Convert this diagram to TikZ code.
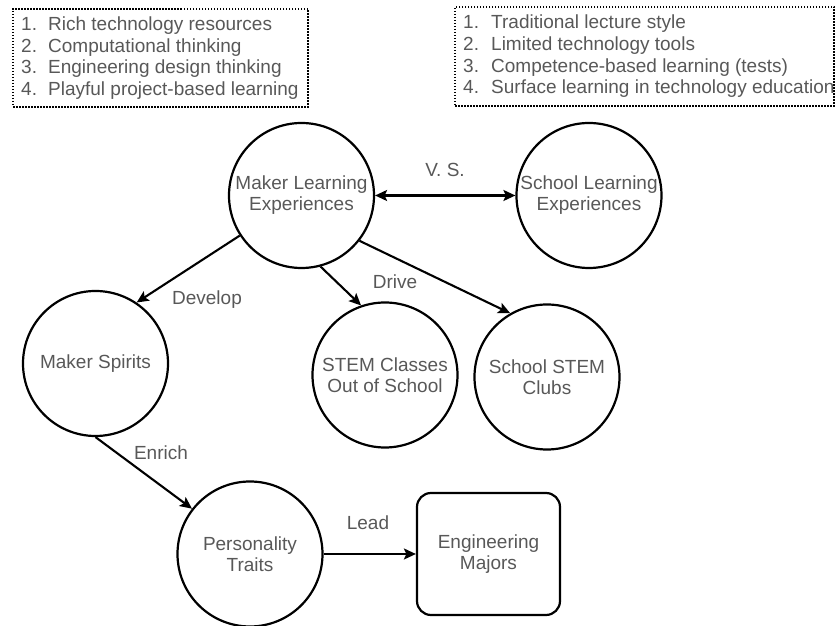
\documentclass[tikz,border=0pt]{standalone}
\usepackage{fontspec}
\setmainfont{Liberation Sans}
\usetikzlibrary{arrows.meta}
\definecolor{txt}{RGB}{88,88,88}
\begin{document}
\begin{tikzpicture}[x=1pt,y=1pt,
  every node/.style={font=\fontsize{19}{21}\selectfont, text=txt},
  circ/.style={circle, draw=black, line width=2.2pt, minimum size=145pt, inner sep=0pt, align=center},
  rbox/.style={rectangle, rounded corners=14pt, draw=black, line width=2.2pt, minimum width=143pt, minimum height=122pt, align=center},
  listbox/.style={rectangle, draw=black, line width=1.8pt, dash pattern=on 1.5pt off 1.5pt, inner sep=0pt},
  listtext/.style={inner sep=0pt, anchor=west, align=left, font=\fontsize{19}{21.7}\selectfont},
  conn/.style={draw=black, line width=2.1pt, -{Stealth[length=12pt,width=11pt,inset=2.5pt]}},
  biconn/.style={draw=black, line width=2.1pt, {Stealth[length=12pt,width=11pt,inset=2.5pt]}-{Stealth[length=12pt,width=11pt,inset=2.5pt]}},
  lbl/.style={inner sep=0pt}
]
\useasboundingbox (0,0) rectangle (836,626);

% list boxes
\node[listbox, minimum width=295pt, minimum height=98pt] (lbox) at (160.5,568) {};
\node[listtext] (ltext) at (21,568) {\makebox[27pt][l]{1.}Rich technology resources\\
\makebox[27pt][l]{2.}Computational thinking\\
\makebox[27pt][l]{3.}Engineering design thinking\\
\makebox[27pt][l]{4.}Playful project-based learning};

\node[listbox, minimum width=379pt, minimum height=99pt] (rbox) at (644.5,569.5) {};
\node[listtext] (rtext) at (463,569.5) {\makebox[28pt][l]{1.}Traditional lecture style\\
\makebox[28pt][l]{2.}Limited technology tools\\
\makebox[28pt][l]{3.}Competence-based learning (tests)\\
\makebox[28pt][l]{4.}Surface learning in technology education};

% circles
\node[circ] (ml) at (301.5,430.5) {Maker Learning\\Experiences};
\node[circ] (sl) at (589,430.5) {School Learning\\Experiences};
\node[circ] (ms) at (95.5,262.5) {Maker Spirits};
\node[circ] (sc) at (385,251) {STEM Classes\\Out of School};
\node[circ] (cl) at (547,249) {School STEM\\Clubs};
\node[circ] (pt) at (250,72) {Personality\\Traits};
\node[rbox] (em) at (488.5,72) {Engineering\\Majors};

% connectors
\draw[biconn] (ml.east) -- (sl.west);
\draw[conn] (ml.213.8) -- (ms.56.6);
\draw[conn] (ml.285.8) -- (sc.109.4);
\draw[conn] (ml.322.5) -- (cl.120.8);
\draw[conn] (ms.south) -- (pt.142.8);
\draw[conn] (pt.east) -- (em.west);

% labels
\node[lbl] (lvs) at (445,456) {V. S.};
\node[lbl] (ldev) at (207,326) {Develop};
\node[lbl] (ldrv) at (395,344) {Drive};
\node[lbl] (lenr) at (161,173) {Enrich};
\node[lbl] (llead) at (368,103) {Lead};
\end{tikzpicture}
\end{document}
